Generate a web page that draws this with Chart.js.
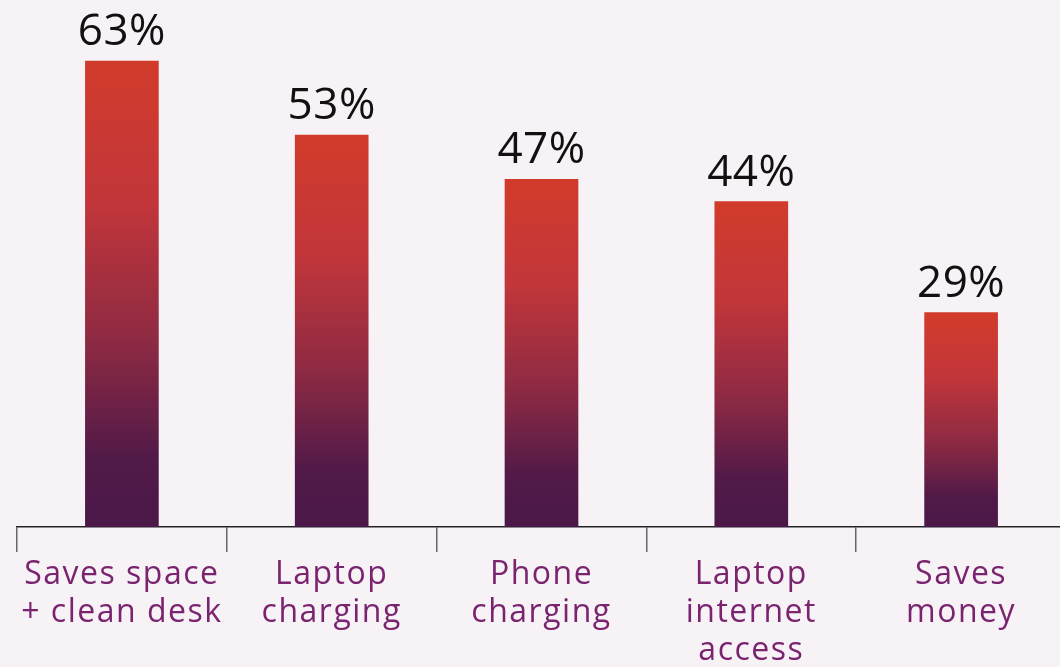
<!DOCTYPE html>
<html><head><meta charset="utf-8">
<script src="https://cdn.jsdelivr.net/npm/chart.js@4/dist/chart.umd.min.js"></script>
<style>
html,body{margin:0;padding:0;background:#f7f2f6;overflow:hidden;}
#wrap{width:1070px;height:667px;position:relative;}
</style></head>
<body><div id="wrap"><canvas id="c"></canvas></div>
<script>
const categories = [["Saves space","+ clean desk"],["Laptop","charging"],["Phone","charging"],["Laptop","internet","access"],["Saves","money"]];
const values = [63, 53, 47, 44, 29];
const valueLabels = ["63%","53%","47%","44%","29%"];

function barGradient(ctx){
  const chart = ctx.chart;
  const area = chart.chartArea;
  if(!area) return '#a0303c';
  const v = ctx.raw;
  const y = chart.scales.y;
  const top = y.getPixelForValue(v), bot = y.getPixelForValue(0);
  const g = chart.ctx.createLinearGradient(0, top, 0, bot);
  g.addColorStop(0, '#d13b2b');
  g.addColorStop(0.3, '#c2363a');
  g.addColorStop(0.6, '#8e2a43');
  g.addColorStop(0.85, '#521a48');
  g.addColorStop(1, '#4a1848');
  return g;
}

const spacingPlugin = {
  id:'spacing',
  beforeDraw(chart){ chart.ctx.letterSpacing = '1.5px'; }
};

const valuePlugin = {
  id:'vals',
  afterDatasetsDraw(chart){
    const ctx = chart.ctx;
    const meta = chart.getDatasetMeta(0);
    ctx.save();
    ctx.letterSpacing = '0.5px';
    ctx.font = '44px "Open Sans", sans-serif';
    ctx.fillStyle = '#111';
    ctx.textAlign = 'center';
    ctx.textBaseline = 'alphabetic';
    meta.data.forEach((bar,i)=>{
      ctx.fillText(valueLabels[i], bar.x, bar.y - 16);
    });
    ctx.restore();
  }
};

new Chart(document.getElementById('c'), {
  type:'bar',
  data:{labels:categories, datasets:[{data:values, backgroundColor:barGradient, barThickness:73, borderWidth:0}]},
  options:{
    responsive:true, maintainAspectRatio:false, animation:false,
    layout:{padding:{left:17,right:4,top:0,bottom:0}},
    plugins:{legend:{display:false},tooltip:{enabled:false}},
    scales:{
      y:{display:false, min:0, max:71.25},
      x:{
        afterFit(s){ s.height = 140; },
        border:{display:true,color:'#222',width:1.5},
        grid:{display:true, offset:true, drawOnChartArea:false, drawTicks:true, tickLength:25, color:'#666', lineWidth:1.5},
        ticks:{color:'#7a2470', font:{family:'"Open Sans", sans-serif', size:32, lineHeight:1.19}, padding:4, maxRotation:0, autoSkip:false}
      }
    }
  },
  plugins:[spacingPlugin, valuePlugin]
});
</script></body></html>
